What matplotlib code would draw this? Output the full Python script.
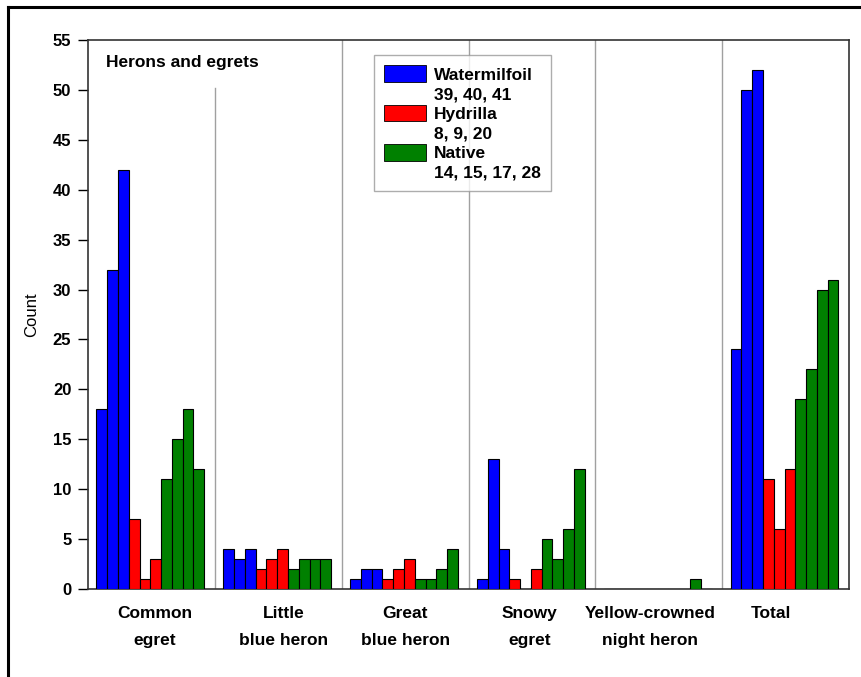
import numpy as np
import matplotlib
matplotlib.use('Agg')
import matplotlib.pyplot as plt
from matplotlib.patches import Patch
from matplotlib.lines import Line2D

plt.rcParams['font.family'] = ['Liberation Sans', 'DejaVu Sans']

# --- Dados ---
grupos = ['Common\negret', 'Little\nblue heron', 'Great\nblue heron',
          'Snowy\negret', 'Yellow-crowned\nnight heron', 'Total']
watermilfoil = [[18, 32, 42], [4, 3, 4], [1, 2, 2], [1, 13, 4], [0, 0, 0], [24, 50, 52]]
hydrilla = [[7, 1, 3], [2, 3, 4], [1, 2, 3], [1, 0, 2], [0, 0, 0], [11, 6, 12]]
native = [[11, 15, 18, 12], [2, 3, 3, 3], [1, 1, 2, 4], [5, 3, 6, 12], [0, 0, 1, 0], [19, 22, 30, 31]]
rotulos_legenda = ['Watermilfoil', '39, 40, 41', 'Hydrilla', '8, 9, 20', 'Native', '14, 15, 17, 28']

cor_azul = '#0000ff'
cor_vermelha = '#ff0000'
cor_verde = '#008000'

fig = plt.figure(figsize=(8.61, 6.77), dpi=100)
ax = fig.add_axes([88 / 861, 1 - 589 / 677, (849 - 88) / 861, (589 - 40) / 677])

largura_grupo = 12
for g in range(len(grupos)):
    base = g * largura_grupo + 0.8
    valores = watermilfoil[g] + hydrilla[g] + native[g]
    cores = [cor_azul] * 3 + [cor_vermelha] * 3 + [cor_verde] * 4
    x = base + np.arange(len(valores)) * 1.02
    ax.bar(x, valores, width=1.02, align='edge', color=cores,
           edgecolor='black', linewidth=0.8, zorder=3)

# linhas divisórias entre grupos
for g in range(1, len(grupos)):
    topo = 50.2 if g == 1 else 55
    ax.plot([g * largura_grupo] * 2, [0, topo], color='#a0a0a0', linewidth=1.0, zorder=1)

ax.set_xlim(0, largura_grupo * len(grupos))
ax.set_ylim(0, 55)
ax.set_yticks(np.arange(0, 56, 5))
ax.set_xticks([])
ax.tick_params(axis='y', direction='out', length=7, width=1, labelsize=12, pad=5)
for lbl in ax.get_yticklabels():
    lbl.set_fontweight('bold')
for s in ax.spines.values():
    s.set_color('#333333')
    s.set_linewidth(1.2)
ax.set_ylabel('Count', fontsize=12, labelpad=10)

# rótulos dos grupos
ajustes = [0.3, 0.5, 0.0, -0.2, -0.8, -1.4]
for g, nome in enumerate(grupos):
    ax.text(g * largura_grupo + 6 + ajustes[g], -1.75, nome, ha='center', va='top',
            fontsize=12.5, fontweight='bold', linespacing=1.95)

ax.text(1.75, 52.7, 'Herons and egrets', fontsize=12.5, fontweight='bold', va='center')

# legenda
vazio = Patch(facecolor='none', edgecolor='none')
handles = [Patch(facecolor=cor_azul, edgecolor='black', linewidth=0.6), vazio,
           Patch(facecolor=cor_vermelha, edgecolor='black', linewidth=0.6), vazio,
           Patch(facecolor=cor_verde, edgecolor='black', linewidth=0.6), vazio]
leg = ax.legend(handles, rotulos_legenda, loc='upper left',
                bbox_to_anchor=((374 - 88) / 761, (589 - 55) / 549),
                borderaxespad=0, frameon=True, fancybox=False, edgecolor='#999999',
                handlelength=2.4, handleheight=1.1, labelspacing=0.14, borderpad=0.6,
                handletextpad=0.45, prop={'weight': 'bold', 'size': 12.5})
leg.get_frame().set_linewidth(1.0)

# moldura externa (topo e esquerda)
fig.add_artist(Line2D([8 / 861, 1], [1 - 7 / 677] * 2, color='black', linewidth=2.2))
fig.add_artist(Line2D([8 / 861] * 2, [0, 1 - 7 / 677], color='black', linewidth=2.2))

fig.savefig('out.png', dpi=100)
